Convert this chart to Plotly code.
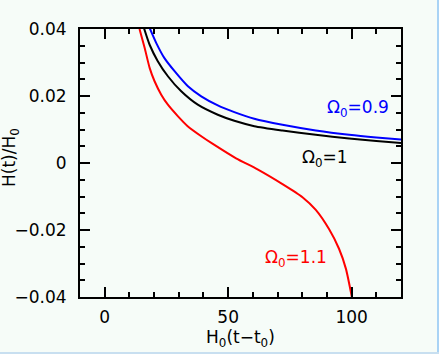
import plotly.graph_objects as go

# Data
x_09 = [18.2, 20.9, 24.2, 28.3, 33.7, 39.1, 45.8, 52.5, 60.6, 72.0, 85.5, 99.0, 110.0, 120.0]
y_09 = [0.0403, 0.0358, 0.0313, 0.0274, 0.0229, 0.0199, 0.0172, 0.0152, 0.0132, 0.0114,
        0.0097, 0.0084, 0.0076, 0.0070]

x_10 = [15.9, 18.2, 21.5, 25.6, 31.0, 37.7, 45.8, 52.5, 60.6, 72.0, 85.5, 99.0, 110.0, 120.0]
y_10 = [0.0403, 0.0353, 0.0304, 0.0259, 0.0214, 0.0174, 0.0144, 0.0126, 0.0110, 0.0097,
        0.0084, 0.0073, 0.0066, 0.0060]

x_11 = [14.1, 16.2, 18.2, 20.2, 22.9, 25.6, 29.6, 33.6, 39.7, 43.8, 53.2, 61.9, 72.0, 80.1,
        85.5, 90.9, 94.9, 97.7, 100.1]
y_11 = [0.0400, 0.0343, 0.0284, 0.0244, 0.0204, 0.0174, 0.0140, 0.0110, 0.0077, 0.0057,
        0.0014, -0.0019, -0.0063, -0.0102, -0.0140, -0.0198, -0.0256, -0.0316, -0.0400]

x_ticks = [0, 50, 100]
y_ticks = [-0.04, -0.02, 0, 0.02, 0.04]
y_tick_labels = ["\u22120.04", "\u22120.02", "0", "0.02", "0.04"]

bg = "#f6fcf8"
font = "DejaVu Sans"

fig = go.Figure()
for xs, ys, col in [(x_09, y_09, "#0000ff"), (x_10, y_10, "#000000"), (x_11, y_11, "#ff0000")]:
    fig.add_trace(go.Scatter(x=xs, y=ys, mode="lines",
                             line=dict(color=col, width=2, shape="spline", smoothing=0.6),
                             showlegend=False, hoverinfo="skip"))

axis_common = dict(showline=True, linecolor="black", linewidth=2, mirror="ticks",
                   ticks="inside", ticklen=10, tickwidth=2, tickcolor="black",
                   showgrid=False, zeroline=False, automargin=False,
                   tickfont=dict(family=font, size=17, color="black"))

fig.update_xaxes(range=[-10, 120], tickvals=x_ticks,
                 minor=dict(dtick=10, ticks="inside", ticklen=5, tickwidth=2, tickcolor="black", showgrid=False),
                 ticklabelstandoff=4,
                 **axis_common)
fig.update_yaxes(range=[-0.04, 0.04], tickvals=y_ticks, ticktext=y_tick_labels,
                 minor=dict(dtick=0.005, ticks="inside", ticklen=5, tickwidth=2, tickcolor="black", showgrid=False),
                 ticklabelstandoff=8,
                 **axis_common)

# axis titles
fig.add_annotation(text="H<sub>0</sub>(t\u2212t<sub>0</sub>)", xref="paper", yref="paper",
                   x=(240.5 - 80) / 321, y=(297 - 338) / 268, showarrow=False,
                   xanchor="center", yanchor="middle", font=dict(family=font, size=17, color="black"))
fig.add_annotation(text="H(t)/H<sub>0</sub>", xref="paper", yref="paper",
                   x=(10 - 80) / 321, y=(297 - 158) / 268, showarrow=False, textangle=-90,
                   xanchor="center", yanchor="middle", font=dict(family=font, size=17, color="black"))

ann = [
    ("\u03a9<sub>0</sub>=0.9", 358, 108, "#0000ff"),
    ("\u03a9<sub>0</sub>=1", 325, 158, "#000000"),
    ("\u03a9<sub>0</sub>=1.1", 296, 258, "#ff0000"),
]
for text, px, py, col in ann:
    fig.add_annotation(text=text, xref="paper", yref="paper",
                       x=(px - 80) / 321, y=(297 - py) / 268,
                       showarrow=False, xanchor="center", yanchor="middle",
                       font=dict(family=font, size=17, color=col))

# light blue window border at right and bottom
fig.add_shape(type="rect", xref="paper", yref="paper",
              x0=(437 - 80) / 321, x1=(440 - 80) / 321, y0=(297 - 355) / 268, y1=(297 + 1) / 268 + 0.2,
              fillcolor="#a9d3f5", line=dict(width=0), layer="above")
fig.add_shape(type="rect", xref="paper", yref="paper",
              x0=-80 / 321, x1=(440 - 80) / 321, y0=(297 - 355) / 268, y1=(297 - 352) / 268,
              fillcolor="#c8dff0", line=dict(width=0), layer="above")

fig.update_layout(width=439, height=354, margin=dict(l=80, r=38, t=29, b=57),
                  paper_bgcolor=bg, plot_bgcolor=bg,
                  font=dict(family=font, size=17, color="black"))

fig.write_html("out.html")
